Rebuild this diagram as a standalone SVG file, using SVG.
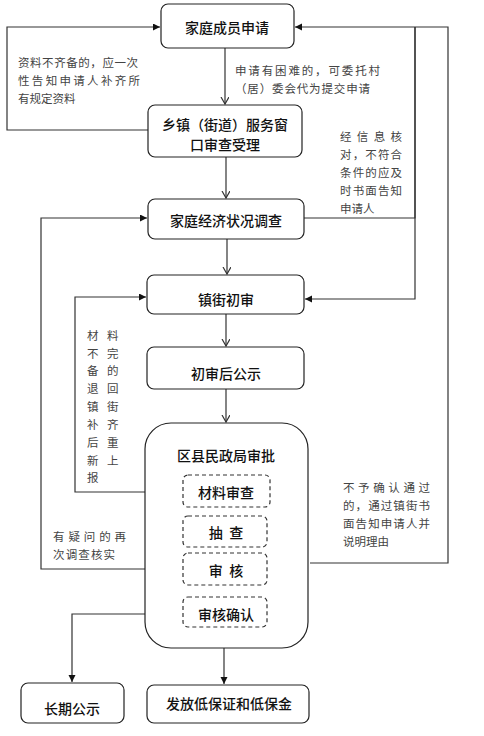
<svg xmlns="http://www.w3.org/2000/svg" width="484" height="736" viewBox="0 0 484 736">
<style>
.box{fill:#fff;stroke:#222;stroke-width:1.2}
.dash{fill:#fff;stroke:#333;stroke-width:1.2;stroke-dasharray:4,3}
.n{font-family:"Noto Sans CJK SC","Liberation Sans",sans-serif;font-size:14px;font-weight:500;fill:#111;text-anchor:middle;dominant-baseline:central}
.a{font-family:"Noto Sans CJK SC","Liberation Serif",serif;font-size:11.5px;fill:#444;dominant-baseline:central}
.c{fill:none;stroke:#333;stroke-width:1.2}
</style>
<defs>
<marker id="open" markerWidth="10" markerHeight="10" refX="7" refY="4" orient="auto" markerUnits="userSpaceOnUse">
<path d="M0,0 L7,4 L0,8" fill="none" stroke="#333" stroke-width="1.2"/>
</marker>
<marker id="fill" markerWidth="10" markerHeight="10" refX="7" refY="3.5" orient="auto" markerUnits="userSpaceOnUse">
<path d="M0,0 L7,3.5 L0,7 Z" fill="#111"/>
</marker>
</defs>
<g id="connectors">
<path class="c" d="M225,48 V104" marker-end="url(#open)"/>
<path class="c" d="M226,157 V198" marker-end="url(#open)"/>
<path class="c" d="M227,239 V274" marker-end="url(#open)"/>
<path class="c" d="M226,314 V346" marker-end="url(#open)"/>
<path class="c" d="M226,389 V422" marker-end="url(#open)"/>
<path class="c" d="M224,648 V684" marker-end="url(#fill)"/>
<path class="c" d="M145,614 H72 V682" marker-end="url(#fill)"/>
<path class="c" d="M148,130 H7 V27 H160" marker-end="url(#fill)"/>
<path class="c" d="M304,218 H415 V27"/>
<path class="c" d="M415,27 V299 H305" marker-end="url(#fill)"/>
<path class="c" d="M310,563 H448 V27 H295" marker-end="url(#fill)"/>
<path class="c" d="M145,569 H41 V218 H147" marker-end="url(#fill)"/>
<path class="c" d="M183,492 H75 V297 H146" marker-end="url(#fill)"/>
</g>
<g id="n1"><rect class="box" x="161" y="4" width="133" height="44" rx="7"/><text class="n" x="227" y="27">家庭成员申请</text></g>
<g id="n2"><rect class="box" x="148" y="105" width="154" height="52" rx="7"/><text class="n" x="225" y="124">乡镇（街道）服务窗</text><text class="n" x="225" y="144">口审查受理</text></g>
<g id="n3"><rect class="box" x="148" y="199" width="156" height="40" rx="7"/><text class="n" x="226" y="220">家庭经济状况调查</text></g>
<g id="n4"><rect class="box" x="147" y="275" width="157" height="39" rx="7"/><text class="n" x="226" y="299">镇街初审</text></g>
<g id="n5"><rect class="box" x="147" y="347" width="157" height="42" rx="7"/><text class="n" x="226" y="373">初审后公示</text></g>
<g id="n6"><rect class="box" x="145" y="423" width="163" height="225" rx="26"/><text class="n" x="226" y="455">区县民政局审批</text></g>
<g id="n6a"><rect class="dash" x="183" y="475" width="87" height="32" rx="5"/><text class="n" x="226" y="492">材料审查</text></g>
<g id="n6b"><rect class="dash" x="183" y="516" width="84" height="31" rx="5"/><text class="n" x="226" y="532" xml:space="preserve">抽  查</text></g>
<g id="n6c"><rect class="dash" x="183" y="553" width="84" height="32" rx="5"/><text class="n" x="226" y="570" xml:space="preserve">审  核</text></g>
<g id="n6d"><rect class="dash" x="183" y="597" width="84" height="30" rx="5"/><text class="n" x="226" y="614">审核确认</text></g>
<g id="n7"><rect class="box" x="21" y="683" width="103" height="40" rx="7"/><text class="n" x="72" y="708">长期公示</text></g>
<g id="n8"><rect class="box" x="147" y="685" width="162" height="38" rx="7"/><text class="n" x="229" y="703">发放低保证和低保金</text></g>
<g id="labels">
<text class="a" x="18" y="62" textLength="120" lengthAdjust="spacing">资料不齐备的，应一次</text>
<text class="a" x="18" y="80" textLength="122" lengthAdjust="spacing">性告知申请人补齐所</text>
<text class="a" x="18" y="98">有规定资料</text>
<text class="a" x="235" y="70" textLength="145" lengthAdjust="spacing">申请有困难的，可委托村</text>
<text class="a" x="235" y="88" textLength="135" lengthAdjust="spacing">（居）委会代为提交申请</text>
<text class="a" x="340" y="136" textLength="62" lengthAdjust="spacing">经信息核</text>
<text class="a" x="340" y="154" textLength="62" lengthAdjust="spacing">对，不符合</text>
<text class="a" x="340" y="172" textLength="62" lengthAdjust="spacing">条件的应及</text>
<text class="a" x="340" y="190" textLength="62" lengthAdjust="spacing">时书面告知</text>
<text class="a" x="340" y="208">申请人</text>
<text class="a" x="87" y="335">材</text><text class="a" x="107" y="335">料</text>
<text class="a" x="87" y="353">不</text><text class="a" x="107" y="353">完</text>
<text class="a" x="87" y="370">备</text><text class="a" x="107" y="370">的</text>
<text class="a" x="87" y="388">退</text><text class="a" x="107" y="388">回</text>
<text class="a" x="87" y="406">镇</text><text class="a" x="107" y="406">街</text>
<text class="a" x="87" y="424">补</text><text class="a" x="107" y="424">齐</text>
<text class="a" x="87" y="442">后</text><text class="a" x="107" y="442">重</text>
<text class="a" x="87" y="460">新</text><text class="a" x="107" y="460">上</text>
<text class="a" x="87" y="477">报</text>
<text class="a" x="53" y="536" textLength="73" lengthAdjust="spacing">有疑问的再</text>
<text class="a" x="53" y="554" textLength="62" lengthAdjust="spacing">次调查核实</text>
<text class="a" x="343" y="487" textLength="87" lengthAdjust="spacing">不予确认通过</text>
<text class="a" x="343" y="505" textLength="87" lengthAdjust="spacing">的，通过镇街书</text>
<text class="a" x="343" y="523" textLength="87" lengthAdjust="spacing">面告知申请人并</text>
<text class="a" x="343" y="541">说明理由</text>
</g>
</svg>
